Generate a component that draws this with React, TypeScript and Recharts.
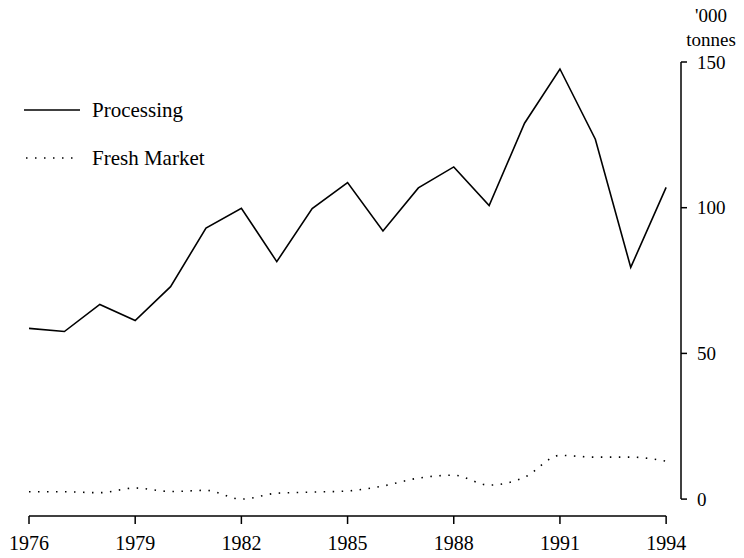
import { LineChart, Line, XAxis, YAxis, ReferenceLine } from "recharts";

const years = [
  1976, 1977, 1978, 1979, 1980, 1981, 1982, 1983, 1984, 1985,
  1986, 1987, 1988, 1989, 1990, 1991, 1992, 1993, 1994,
];
const processing = [
  58.6, 57.5, 66.8, 61.3, 72.9, 93, 99.8, 81.5, 99.7, 108.6,
  92, 106.8, 114, 100.7, 129, 147.6, 123.5, 79.5, 107,
];
const freshMarket = [
  2.5, 2.5, 2.2, 3.8, 2.6, 3.0, 0, 2.0, 2.4, 2.8,
  4.5, 7.2, 8.2, 4.8, 7.5, 15, 14.4, 14.4, 13,
];
const xTicks = [1976, 1979, 1982, 1985, 1988, 1991, 1994];
const yTicks = [0, 50, 100, 150];

const data = years.map((y, i) => ({
  year: y,
  processing: processing[i],
  fresh: freshMarket[i],
}));

const font = "'Liberation Serif', 'Times New Roman', serif";
const X_MAX = 1994.42; // a little room between the last year and the y axis
const Y_MIN = -5.8; // x axis sits a bit below zero

const LegendBox = () => (
  <div style={{ position: "absolute", left: 22, top: 96, fontFamily: font, fontSize: 21, color: "#000" }}>
    <div style={{ display: "flex", alignItems: "center", height: 28 }}>
      <svg width={70} height={10}>
        <line x1={2} y1={5} x2={58} y2={5} stroke="#000" strokeWidth={1.6} />
      </svg>
      <span>Processing</span>
    </div>
    <div style={{ display: "flex", alignItems: "center", height: 28, marginTop: 20 }}>
      <svg width={70} height={10}>
        <line x1={4} y1={5} x2={54} y2={5} stroke="#000" strokeWidth={1.6} strokeDasharray="1.5 7.5" />
      </svg>
      <span>Fresh Market</span>
    </div>
  </div>
);

export default function App() {
  return (
    <div style={{ position: "relative", width: 744, height: 558, margin: -8, background: "#fff" }}>
      <LineChart
        width={744}
        height={558}
        data={data}
        margin={{ top: 62, right: 13, bottom: 2, left: 29 }}
      >
        <XAxis
          dataKey="year"
          type="number"
          domain={[1976, X_MAX]}
          allowDataOverflow
          ticks={xTicks}
          axisLine={false}
          tickLine={{ stroke: "#000", strokeWidth: 1.5 }}
          tickSize={8}
          tickMargin={12}
          height={40}
          tick={{ fill: "#000", fontSize: 20, fontFamily: font }}
        />
        <YAxis
          orientation="right"
          type="number"
          domain={[Y_MIN, 150]}
          allowDataOverflow
          ticks={yTicks}
          axisLine={false}
          tickLine={{ stroke: "#000", strokeWidth: 1.5 }}
          tickSize={6}
          tickMargin={10}
          width={50}
          tick={{ fill: "#000", fontSize: 19, fontFamily: font }}
        />
        <ReferenceLine
          segment={[{ x: 1976, y: Y_MIN }, { x: 1994, y: Y_MIN }]}
          stroke="#000"
          strokeWidth={1.5}
          ifOverflow="visible"
        />
        <ReferenceLine
          segment={[{ x: X_MAX, y: 0 }, { x: X_MAX, y: 150 }]}
          stroke="#000"
          strokeWidth={1.5}
          ifOverflow="visible"
        />
        <Line
          dataKey="processing"
          type="linear"
          stroke="#000"
          strokeWidth={1.6}
          dot={false}
          isAnimationActive={false}
        />
        <Line
          dataKey="fresh"
          type="monotone"
          stroke="#000"
          strokeWidth={1.6}
          strokeDasharray="1.5 7.5"
          dot={false}
          isAnimationActive={false}
        />
      </LineChart>
      <LegendBox />
      <div
        style={{
          position: "absolute",
          left: 676,
          top: 4,
          width: 70,
          textAlign: "center",
          fontFamily: font,
          fontSize: 19,
          lineHeight: "24px",
          color: "#000",
        }}
      >
        <div>'000</div>
        <div>tonnes</div>
      </div>
    </div>
  );
}
